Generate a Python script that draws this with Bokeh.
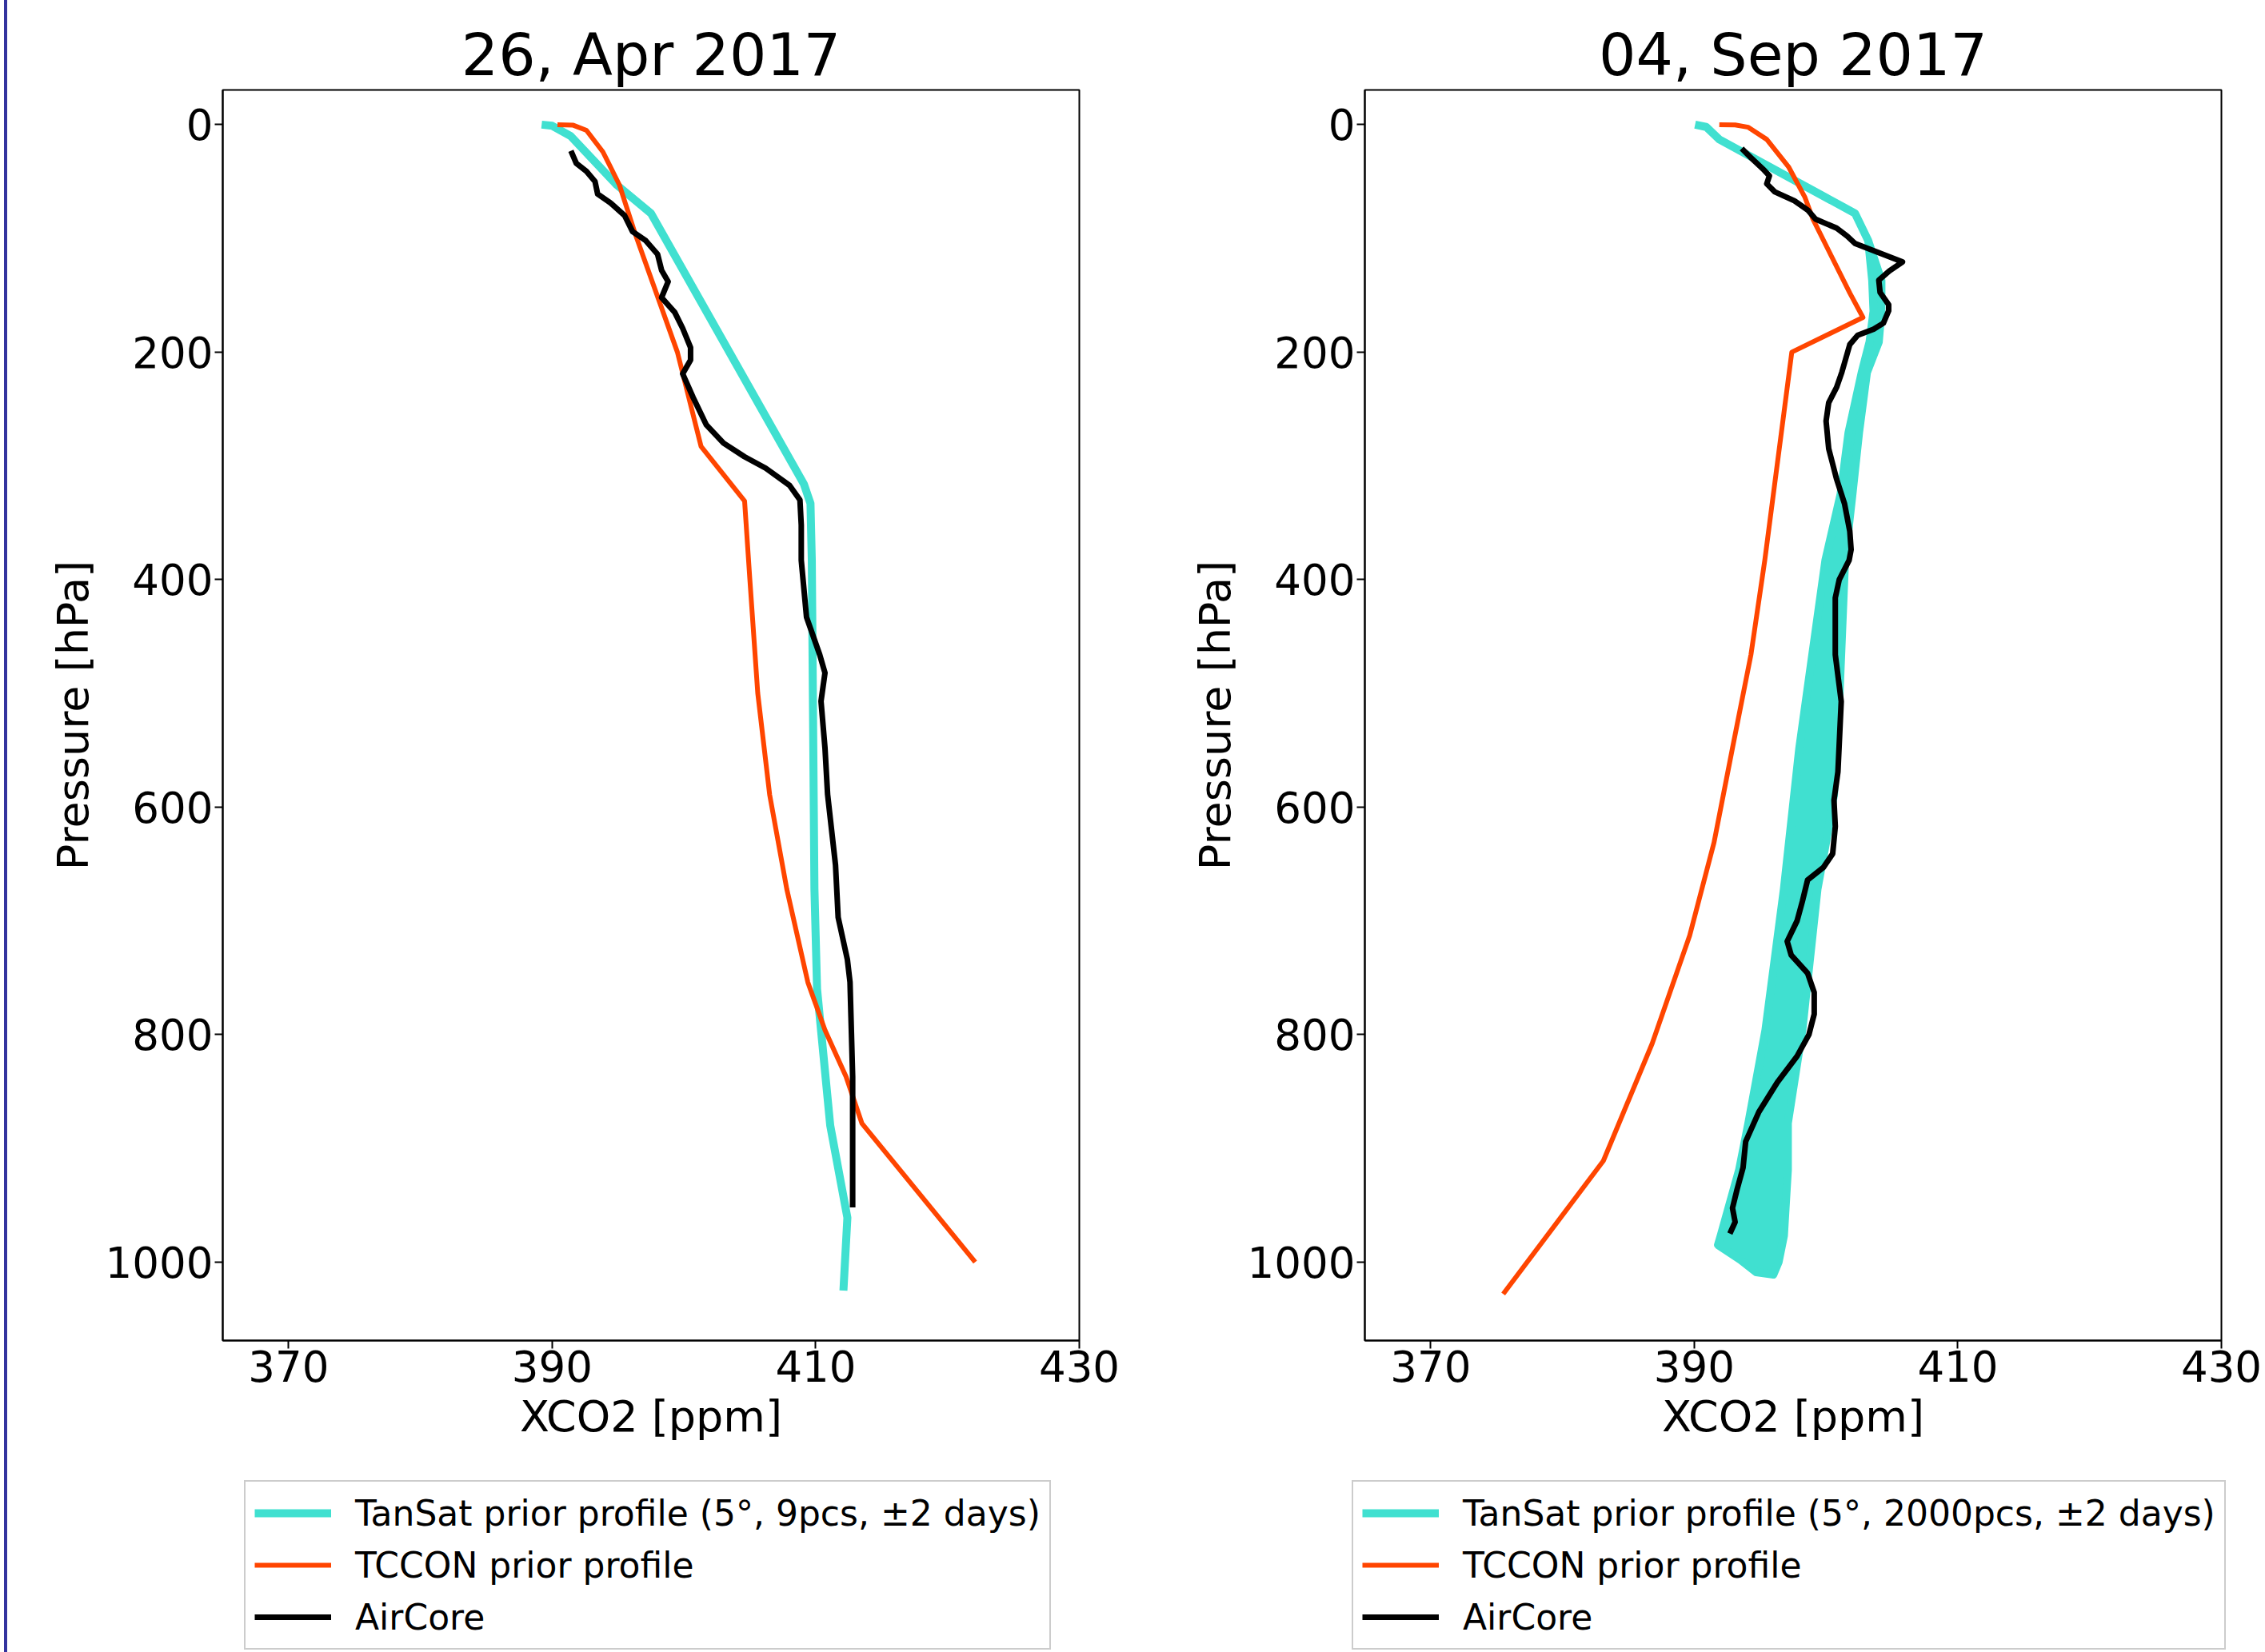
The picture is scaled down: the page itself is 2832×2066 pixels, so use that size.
from bokeh.plotting import figure
from bokeh.models import Range1d, FixedTicker, Legend, LegendItem, InlineStyleSheet
from bokeh.layouts import row, column
from bokeh.embed import file_html
from bokeh.resources import INLINE

# ---------------- data ----------------
x_ticks = [370, 390, 410, 430]
y_ticks = [0, 200, 400, 600, 800, 1000]

titles = ["26, Apr 2017", "04, Sep 2017"]
labels_tansat = ["TanSat prior profile (5°, 9pcs, ±2 days)",
                 "TanSat prior profile (5°, 2000pcs, ±2 days)"]
label_tccon = "TCCON prior profile"
label_aircore = "AirCore"

# 26 Apr 2017
apr_tansat_x = [389.2, 390.0, 391.4, 394.9, 397.5, 409.1, 409.6, 409.7, 409.9, 410.1, 411.1, 412.4, 412.1]
apr_tansat_p = [0, 1, 10, 53, 78, 316, 333, 383, 672, 760, 880, 961, 1025]

apr_tccon_x = [390.4, 391.6, 392.6, 393.85, 395.1, 396.3, 399.5, 401.3, 404.6, 405.0, 405.6,
               406.5, 407.8, 409.4, 410.7, 412.3, 413.5, 422.1]
apr_tccon_p = [0, 0.5, 5, 24, 53, 96, 200, 283, 331, 400, 500, 589, 672, 754, 796, 837, 878, 1000]

apr_air_x = [391.42, 391.83, 392.6, 393.25, 393.45, 394.45, 395.5, 396.1, 397.1, 398.0, 398.3,
             398.8, 398.3, 399.3, 399.9, 400.5, 400.5, 399.9, 400.7, 401.7, 403.0, 404.6, 406.2,
             408.0, 408.8, 408.9, 408.9, 409.3, 410.3, 410.7, 410.4, 410.7, 410.9, 411.5, 411.7,
             412.4, 412.6, 412.8, 412.8, 412.8]
apr_air_p = [23, 34, 41, 50, 61, 69, 80, 94, 102, 114, 128, 138, 152, 165, 179, 196, 207, 219,
             240, 264, 280, 292, 302, 317, 330, 352, 383, 433, 466, 482, 507, 548, 589, 651, 697,
             734, 754, 837, 919, 952]

# 04 Sep 2017 : TanSat band (envelope of the 2000 prior profiles)
sep_band_left_x = [390.06, 390.9, 391.9, 402.2, 403.2, 403.5, 403.6, 403.3, 402.7, 401.7, 401.1,
                   399.95, 397.97, 396.8, 395.4, 394.1, 393.4, 392.0, 391.8, 393.5, 394.7, 396.0]
sep_band_left_p = [0, 2, 13, 78, 102, 137, 164, 191, 218, 271, 325, 383, 548, 672, 796, 878, 919,
                   977, 985, 998, 1009, 1011]
sep_band_right_x = [390.06, 390.9, 391.9, 402.2, 403.2, 404.2, 404.2, 404.0, 403.1, 402.5, 402.0,
                    401.44, 401.0, 400.6, 400.0, 399.35, 398.2, 397.1, 397.1, 396.8, 396.4]
sep_band_right_p = [0, 2, 13, 78, 102, 137, 164, 191, 218, 271, 325, 383, 507, 589, 631, 672, 796,
                    878, 919, 977, 1000]

sep_tccon_x = [391.9, 393.1, 394.1, 395.5, 397.15, 398.4, 399.0, 401.8, 402.8, 397.4, 395.35, 394.3,
               392.9, 391.5, 389.65, 386.8, 383.1, 375.5]
sep_tccon_p = [0, 0.3, 2.3, 13, 37, 64, 83, 148, 169.5, 200, 383, 466, 548, 631, 713, 808, 911, 1028]

sep_air_x = [393.6, 394.3, 395.3, 395.7, 395.5, 396.1, 397.6, 398.6, 399.2, 400.8, 401.6, 402.2,
             404.0, 405.8, 404.8, 404.0, 404.1, 404.75, 404.75, 404.35, 403.6, 402.4, 401.8, 401.4,
             401.2, 400.8, 400.2, 400.0, 400.2, 400.8, 401.4, 401.8, 401.9, 401.75, 401.0, 400.7,
             400.7, 401.15, 400.9, 400.6, 400.7, 400.5, 399.8, 398.6, 398.2, 397.8, 397.05, 397.35,
             398.6, 399.1, 399.1, 398.7, 397.8, 396.3, 394.9, 393.9, 393.7, 393.25, 392.9, 393.1, 392.7]
sep_air_p = [21, 29, 40, 45, 52, 59, 67, 75, 83, 91, 98, 104.5, 112.6, 120.7, 128.7, 136.8, 147.6,
             158.3, 163.7, 174.5, 179.9, 185.2, 193.3, 209.5, 217.5, 231, 244.4, 260.6, 284.8,
             311.7, 333.2, 357.4, 373.6, 383, 400, 416, 466, 507, 569, 594, 617, 641, 653, 664, 683,
             700, 718, 730, 746, 763, 782, 800, 819, 842, 868, 894, 917, 936, 952.5, 964.8, 975]

# ---------------- style ----------------
FONT = "DejaVu Sans"
C_TANSAT = "#40E0D0"
C_TCCON = "#FF4500"
C_AIR = "black"
W_TANSAT, W_TCCON, W_AIR = 10, 6, 7
PLOT_H = 1816
LEG_H = 2066 - PLOT_H


def make_fig(title, border_left, border_right):
    p = figure(frame_width=1071, frame_height=1564,
               x_range=Range1d(365, 430), y_range=Range1d(1069, -30.5),
               output_backend="svg", toolbar_location=None,
               min_border_left=border_left, min_border_right=border_right,
               min_border_top=112, min_border_bottom=PLOT_H - 112 - 1564)
    p.frame_align = False
    p.title.text = title
    p.title.text_font = FONT
    p.title.text_font_size = "73px"
    p.title.text_font_style = "normal"
    p.title.text_color = "black"
    p.title.align = "center"
    p.title.standoff = 4
    p.xgrid.visible = False
    p.ygrid.visible = False
    p.outline_line_color = "black"
    p.outline_line_width = 2
    p.outline_line_alpha = 1
    p.xaxis.ticker = FixedTicker(ticks=x_ticks)
    p.yaxis.ticker = FixedTicker(ticks=y_ticks)
    p.xaxis.axis_label = "XCO2 [ppm]"
    p.yaxis.axis_label = "Pressure [hPa]"
    for ax in (p.xaxis, p.yaxis):
        ax.axis_label_text_font = FONT
        ax.axis_label_text_font_size = "54px"
        ax.axis_label_text_font_style = "normal"
        ax.axis_label_text_color = "black"
        ax.major_label_text_font = FONT
        ax.major_label_text_font_size = "53px"
        ax.major_label_text_color = "black"
        ax.major_tick_in = 0
        ax.major_tick_out = 10
        ax.minor_tick_in = 0
        ax.minor_tick_out = 0
        ax.major_tick_line_width = 2
        ax.major_tick_line_color = "black"
        ax.axis_line_width = 2
        ax.axis_line_color = "black"
    p.xaxis.major_label_standoff = 2
    p.yaxis.major_label_standoff = 2
    p.xaxis.axis_label_standoff = 9
    p.yaxis.axis_label_standoff = 6
    return p


def legend_fig(width, labels, x_left):
    lf = figure(width=width, height=LEG_H, x_range=Range1d(0, 1), y_range=Range1d(0, 1),
                output_backend="svg", toolbar_location=None,
                x_axis_type=None, y_axis_type=None,
                min_border_left=0, min_border_right=0, min_border_top=0, min_border_bottom=0)
    lf.frame_align = False
    lf.xgrid.visible = False
    lf.ygrid.visible = False
    lf.outline_line_color = None
    e1 = lf.line([-5, -4], [-5, -4], line_color=C_TANSAT, line_width=W_TANSAT)
    e2 = lf.line([-5, -4], [-5, -4], line_color=C_TCCON, line_width=W_TCCON)
    e3 = lf.line([-5, -4], [-5, -4], line_color=C_AIR, line_width=W_AIR)
    leg = Legend(items=[LegendItem(label=labels[0], renderers=[e1]),
                        LegendItem(label=labels[1], renderers=[e2]),
                        LegendItem(label=labels[2], renderers=[e3])],
                 location=(x_left, 3), orientation="vertical")
    leg.label_text_font = FONT
    leg.label_text_font_size = "44px"
    leg.label_text_color = "black"
    leg.glyph_width = 96
    leg.glyph_height = 56
    leg.spacing = 9
    leg.padding = 11
    leg.label_standoff = 30
    leg.border_line_color = "#cccccc"
    leg.border_line_width = 2
    leg.border_line_alpha = 1
    leg.background_fill_alpha = 1
    lf.add_layout(leg, "center")
    return lf


# left panel
p1 = make_fig(titles[0], 278, 111)
p1.line(apr_tansat_x, apr_tansat_p, line_color=C_TANSAT, line_width=W_TANSAT, line_join="round")
p1.line(apr_tccon_x, apr_tccon_p, line_color=C_TCCON, line_width=W_TCCON, line_join="round")
p1.line(apr_air_x, apr_air_p, line_color=C_AIR, line_width=W_AIR, line_join="round")
l1 = legend_fig(278 + 1071 + 111, [labels_tansat[0], label_tccon, label_aircore], 305)

# right panel
p2 = make_fig(titles[1], 246, 55)
band_x = sep_band_left_x + sep_band_right_x[::-1]
band_p = sep_band_left_p + sep_band_right_p[::-1]
p2.patch(band_x, band_p, fill_color=C_TANSAT, line_color=None)
p2.line(band_x + band_x[:1], band_p + band_p[:1], line_color=C_TANSAT,
        line_width=W_TANSAT, line_join="round")
p2.line(sep_tccon_x, sep_tccon_p, line_color=C_TCCON, line_width=W_TCCON, line_join="round")
p2.line(sep_air_x, sep_air_p, line_color=C_AIR, line_width=W_AIR, line_join="round")
l2 = legend_fig(246 + 1071 + 55, [labels_tansat[1], label_tccon, label_aircore], 230)

edge = InlineStyleSheet(css=":host::before{content:'';position:absolute;left:5px;top:0;"
                            "width:4px;height:100%;background:#33339e;z-index:10;}")
layout = row(column(p1, l1), column(p2, l2), stylesheets=[edge])
open("out.html", "w").write(file_html(layout, INLINE))
